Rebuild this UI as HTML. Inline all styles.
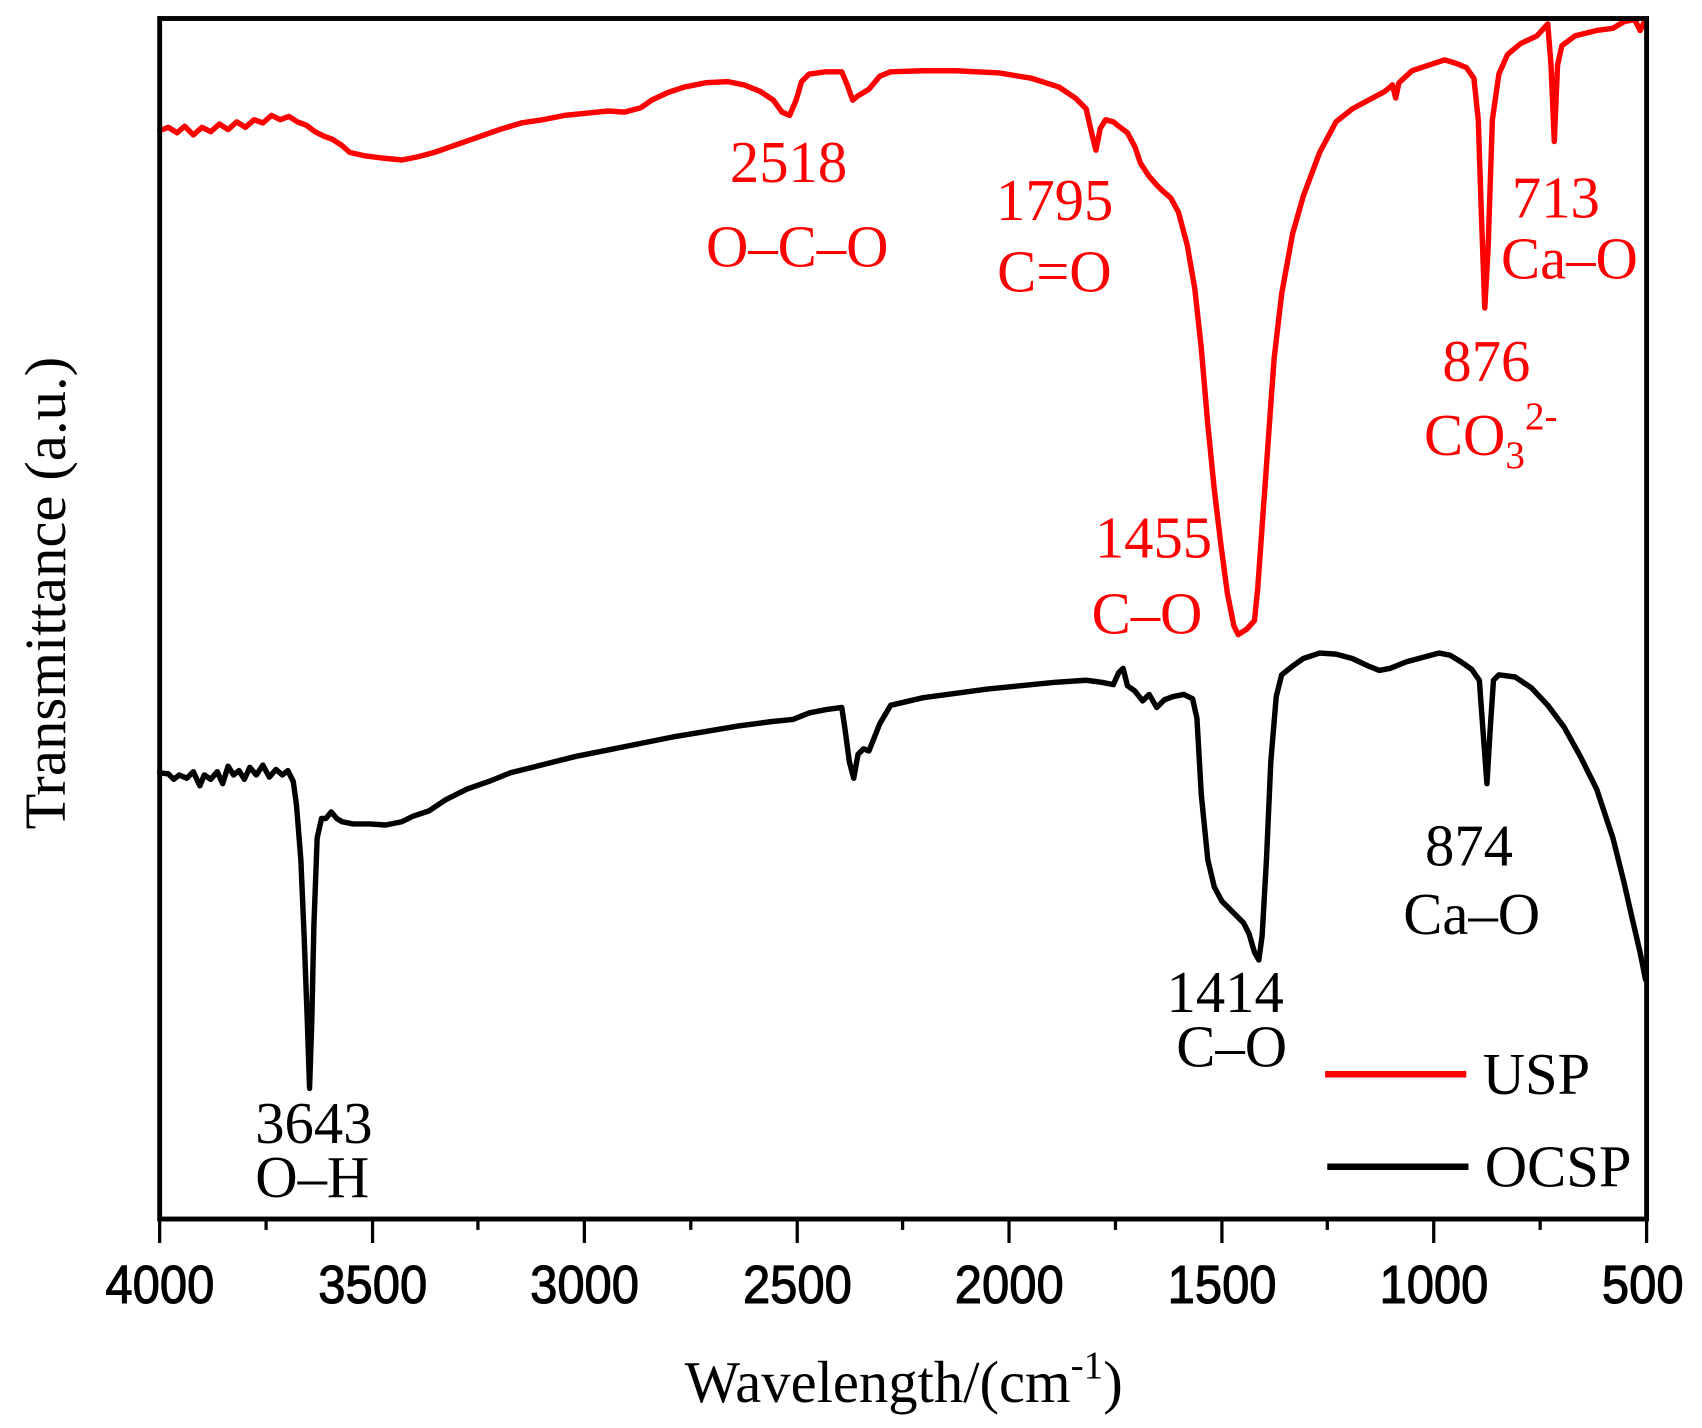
<!DOCTYPE html>
<html><head><meta charset="utf-8"><style>html,body{margin:0;padding:0;background:#fff}svg{display:block}</style></head>
<body>
<svg width="1702" height="1428" viewBox="0 0 1567 1312" preserveAspectRatio="none" xmlns="http://www.w3.org/2000/svg">
<rect x="0" y="0" width="1567" height="1312" fill="#fff"/>
<g fill="none" stroke-linejoin="round" stroke-linecap="round" stroke-width="5">
<polyline stroke="#ff0000" points="147,120 155,117 163,122 170,116 178,124 186,117 194,121 202,114 210,119 218,112 226,117 234,110 242,113 250,106 258,110 266,107 274,112 282,115 290,121 298,125 306,128 314,133 322,140 335,143 350,145 370,147 385,144 400,140 420,133 440,126 460,119 480,113 500,110 520,106 540,104 560,102 575,103 590,99 600,92 615,85 630,80 650,76 670,75 685,78 700,84 712,92 720,103 727,106 733,92 738,75 745,68 760,66 775,66 780,78 785,92 790,88 800,82 810,70 820,66 850,65 880,65 920,67 950,72 975,80 990,90 1000,100 1005,122 1009,138 1013,118 1018,110 1025,112 1030,116 1038,122 1045,135 1050,150 1058,162 1065,170 1070,175 1078,182 1085,195 1093,225 1100,265 1106,320 1112,390 1118,450 1124,500 1130,545 1136,575 1140,583 1148,578 1155,570 1158,540 1163,470 1168,400 1173,330 1180,270 1190,215 1200,180 1215,140 1230,112 1245,100 1260,92 1275,84 1282,78 1285,90 1288,76 1300,65 1315,60 1330,55 1340,58 1350,62 1357,72 1361,110 1364,200 1367,283 1370,230 1374,110 1380,68 1388,50 1400,40 1415,33 1425,22 1428,60 1431,130 1434,60 1438,42 1450,33 1470,28 1485,26 1495,20 1505,18 1510,28 1514,20"/>
<polyline stroke="#000" points="147,710 155,711 160,716 165,712 172,715 178,709 184,722 188,712 194,716 200,709 205,720 210,704 215,712 220,708 225,716 230,705 236,712 242,703 248,714 254,707 260,712 265,708 270,718 273,740 277,790 280,860 283,940 285,1000 287,940 289,850 292,770 296,752 300,752 305,746 310,752 315,755 325,757 340,757 355,758 370,755 380,750 395,745 410,735 430,725 450,718 470,710 490,705 510,700 530,695 560,689 590,683 620,677 650,672 680,667 710,663 730,661 745,655 760,652 775,650 778,670 782,700 786,715 790,693 795,688 800,690 810,665 820,648 850,641 880,637 910,633 940,630 970,627 1000,625 1015,627 1025,629 1030,618 1034,614 1038,630 1045,635 1052,644 1058,638 1065,650 1072,643 1080,640 1090,638 1098,642 1102,660 1106,730 1112,790 1118,815 1125,828 1135,838 1145,848 1150,858 1155,875 1159,882 1162,860 1166,790 1170,700 1175,640 1180,620 1190,612 1200,605 1215,600 1230,601 1245,605 1260,612 1270,616 1280,614 1295,608 1310,604 1325,600 1335,602 1345,608 1355,615 1362,625 1366,680 1369,720 1372,670 1375,625 1380,620 1395,622 1410,632 1425,648 1440,668 1455,695 1470,725 1485,770 1495,810 1503,845 1510,875 1515,900"/>
</g>
<rect x="147" y="17" width="1369" height="1103" fill="none" stroke="#000" stroke-width="4.5"/>
<g stroke="#000" stroke-width="3">
<line x1="147" y1="1120" x2="147" y2="1142"/><line x1="343" y1="1120" x2="343" y2="1142"/><line x1="538" y1="1120" x2="538" y2="1142"/><line x1="734" y1="1120" x2="734" y2="1142"/><line x1="929" y1="1120" x2="929" y2="1142"/><line x1="1125" y1="1120" x2="1125" y2="1142"/><line x1="1320" y1="1120" x2="1320" y2="1142"/><line x1="1516" y1="1120" x2="1516" y2="1142"/>
<line x1="245" y1="1120" x2="245" y2="1130"/><line x1="440" y1="1120" x2="440" y2="1130"/><line x1="636" y1="1120" x2="636" y2="1130"/><line x1="831" y1="1120" x2="831" y2="1130"/><line x1="1027" y1="1120" x2="1027" y2="1130"/><line x1="1222" y1="1120" x2="1222" y2="1130"/><line x1="1418" y1="1120" x2="1418" y2="1130"/>
</g>
<g font-family="'Liberation Sans',sans-serif" font-size="49" text-anchor="middle" fill="#000" stroke="#000" stroke-width="1" transform="scale(0.92,1)">
<text x="160" y="1197">4000</text><text x="373" y="1197">3500</text><text x="585" y="1197">3000</text><text x="798" y="1197">2500</text><text x="1010" y="1197">2000</text><text x="1223" y="1197">1500</text><text x="1435" y="1197">1000</text><text x="1644" y="1197">500</text>
</g>
<g font-family="'Liberation Serif',serif" font-size="54" fill="#ff0000">
<text x="672" y="167">2518</text><text x="650" y="245">O–C–O</text>
<text x="917" y="202">1795</text><text x="918" y="268">C=O</text>
<text x="1008" y="512">1455</text><text x="1005" y="582">C–O</text>
<text x="1328" y="350">876</text><text x="1311" y="418">CO<tspan font-size="36" dy="12">3</tspan><tspan font-size="36" dy="-36">2-</tspan></text>
<text x="1392" y="200">713</text><text x="1382" y="256">Ca–O</text>
</g>
<g font-family="'Liberation Serif',serif" font-size="54" fill="#000">
<text x="1312" y="795">874</text><text x="1292" y="858">Ca–O</text>
<text x="1074" y="930">1414</text><text x="1083" y="980">C–O</text>
<text x="235" y="1050">3643</text><text x="235" y="1100">O–H</text>
<text x="1365" y="1005">USP</text><text x="1367" y="1090">OCSP</text>
<text x="832" y="1288" text-anchor="middle">Wavelength/(cm<tspan font-size="36" dy="-22">-1</tspan><tspan dy="22">)</tspan></text>
<text transform="translate(60,545) rotate(-90)" text-anchor="middle">Transmittance (a.u.)</text>
</g>
<line x1="1220" y1="987" x2="1350" y2="987" stroke="#ff0000" stroke-width="6"/>
<line x1="1222" y1="1072" x2="1352" y2="1072" stroke="#000" stroke-width="6"/>
</svg>
</body></html>
